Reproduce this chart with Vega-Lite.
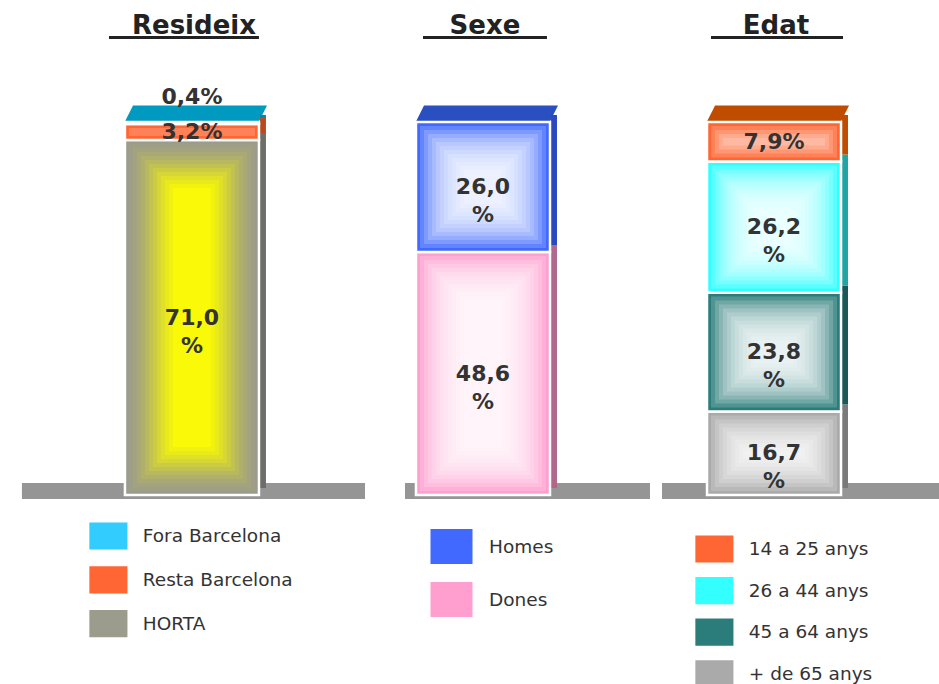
{
  "$schema": "https://vega.github.io/schema/vega-lite/v6.json",
  "autosize": {"type": "none"},
  "padding": {"left": 0, "top": 60, "right": 0, "bottom": 189},
  "width": 939,
  "height": 435,
  "background": "white",
  "config": {"view": {"stroke": null}, "font": "DejaVu Sans"},
  "data": {"values": [
    {"panel": "Resideix", "cat": "HORTA", "value": 71.0, "label": "71,0\n%", "ord": 1},
    {"panel": "Resideix", "cat": "Resta Barcelona", "value": 3.2, "label": "3,2%", "ord": 2},
    {"panel": "Resideix", "cat": "Fora Barcelona", "value": 0.4, "label": "0,4%", "ord": 3},
    {"panel": "Sexe", "cat": "Dones", "value": 48.6, "label": "48,6\n%", "ord": 1},
    {"panel": "Sexe", "cat": "Homes", "value": 26.0, "label": "26,0\n%", "ord": 2},
    {"panel": "Edat", "cat": "+ de 65 anys", "value": 16.7, "label": "16,7\n%", "ord": 1},
    {"panel": "Edat", "cat": "45 a 64 anys", "value": 23.8, "label": "23,8\n%", "ord": 2},
    {"panel": "Edat", "cat": "26 a 44 anys", "value": 26.2, "label": "26,2\n%", "ord": 3},
    {"panel": "Edat", "cat": "14 a 25 anys", "value": 7.9, "label": "7,9%", "ord": 4}
  ]},
  "transform": [
    {"stack": "value", "groupby": ["panel"], "sort": [{"field": "ord", "order": "ascending"}], "as": ["y0", "y1"]}
  ],
  "encoding": {
    "x": {
      "field": "panel", "type": "nominal", "sort": ["Resideix", "Sexe", "Edat"],
      "scale": {"domain": ["Resideix", "Sexe", "Edat"], "paddingInner": 0.5395, "paddingOuter": 0.383, "align": 0.5605},
      "axis": {"orient": "top", "title": null, "domain": false, "ticks": false, "tickSize": 0, "grid": false,
               "labelPadding": 27, "labelAngle": 0, "labelBaseline": "alphabetic", "labelOffset": 2,
               "labelFont": "DejaVu Sans", "labelFontSize": 26, "labelFontWeight": "bold", "labelColor": "#222222"}
    }
  },
  "layer": [
    {
      "transform": [{"filter": {"and": [{"field": "panel", "equal": "Resideix"}, {"field": "ord", "equal": 1}]}}],
      "mark": {"type": "bar", "fill": "#959595", "width": {"band": 2.56}, "xOffset": 1.5},
      "encoding": {"y": {"datum": -0.8, "type": "quantitative", "scale": {"domain": [0, 87], "nice": false, "zero": false}, "axis": null}, "y2": {"datum": 2.4}}
    },
    {
      "transform": [{"filter": {"and": [{"field": "panel", "equal": "Sexe"}, {"field": "ord", "equal": 1}]}}],
      "mark": {"type": "bar", "fill": "#959595", "width": {"band": 1.828}, "xOffset": 44.5},
      "encoding": {"y": {"datum": -0.8, "type": "quantitative", "scale": {"domain": [0, 87], "nice": false, "zero": false}, "axis": null}, "y2": {"datum": 2.4}}
    },
    {
      "transform": [{"filter": {"and": [{"field": "panel", "equal": "Edat"}, {"field": "ord", "equal": 1}]}}],
      "mark": {"type": "bar", "fill": "#959595", "width": {"band": 2.067}, "xOffset": 26.5},
      "encoding": {"y": {"datum": -0.8, "type": "quantitative", "scale": {"domain": [0, 87], "nice": false, "zero": false}, "axis": null}, "y2": {"datum": 2.4}}
    },
    {
      "transform": [{"filter": {"field": "cat", "oneOf": ["Fora Barcelona", "Homes", "14 a 25 anys"]}}],
      "mark": {"type": "point", "filled": true, "opacity": 1, "strokeWidth": 0, "size": 17956, "yOffset": -8.5,
               "shape": "M-1,0.118L1,0.118L1.12,-0.118L-0.88,-0.118Z"},
      "encoding": {
        "y": {"field": "y1", "type": "quantitative", "scale": {"domain": [0, 87], "nice": false, "zero": false}, "axis": null},
        "fill": {"condition": [{"test": "datum.panel === 'Resideix'", "value": "#0099C0"}, {"test": "datum.panel === 'Sexe'", "value": "#2A4FC0"}], "value": "#C04C00"}
      }
    },
    {
      "mark": {"type": "bar", "width": 6, "xOffset": 71, "yOffset": -7, "y2Offset": -7},
      "encoding": {
        "y": {"field": "y0", "type": "quantitative", "scale": {"domain": [0, 87], "nice": false, "zero": false}, "axis": null},
        "y2": {"field": "y1"},
        "fill": {"condition": [
          {"test": "datum.cat === 'HORTA'", "value": "#6E6E68"},
          {"test": "datum.cat === 'Resta Barcelona'", "value": "#B84A20"},
          {"test": "datum.cat === 'Fora Barcelona'", "value": "#0088AA"},
          {"test": "datum.cat === 'Homes'", "value": "#2A48C0"},
          {"test": "datum.cat === 'Dones'", "value": "#B0688C"},
          {"test": "datum.cat === '14 a 25 anys'", "value": "#C04C00"},
          {"test": "datum.cat === '26 a 44 anys'", "value": "#20A4A4"},
          {"test": "datum.cat === '45 a 64 anys'", "value": "#1A5858"}
        ], "value": "#7A7A7A"}
      }
    },
    {
      "transform": [{"filter": {"field": "panel", "equal": "Resideix"}}],
      "mark": {"type": "bar", "stroke": "white", "strokeWidth": 2.5},
      "encoding": {
        "y": {"field": "y0", "type": "quantitative", "scale": {"domain": [0, 87], "nice": false, "zero": false}, "axis": null},
        "y2": {"field": "y1"},
        "color": {"field": "cat", "type": "nominal",
          "scale": {"domain": ["Fora Barcelona", "Resta Barcelona", "HORTA"], "range": ["#33CCFF", "#FF6633", "#9C9C8C"]},
          "legend": {"orient": "none", "legendX": 94.4, "legendY": 462, "title": null, "padding": 0,
            "symbolType": "M-1.4,-1H1.4V1H-1.4Z", "symbolSize": 740, "symbolStrokeWidth": 0, "symbolOpacity": 1,
            "labelFont": "DejaVu Sans", "labelFontSize": 18.5, "labelColor": "#333333", "labelOffset": 20.4, "labelLimit": 400, "rowPadding": 15.8}}
      }
    },
    {
      "transform": [{"filter": {"field": "panel", "equal": "Sexe"}}],
      "mark": {"type": "bar", "stroke": "white", "strokeWidth": 2.5},
      "encoding": {
        "y": {"field": "y0", "type": "quantitative", "scale": {"domain": [0, 87], "nice": false, "zero": false}, "axis": null},
        "y2": {"field": "y1"},
        "color": {"field": "cat", "type": "nominal",
          "scale": {"domain": ["Homes", "Dones"], "range": ["#4169FF", "#FF9FCF"]},
          "legend": {"orient": "none", "legendX": 434, "legendY": 469, "title": null, "padding": 0,
            "symbolType": "M-1.2,-1H1.2V1H-1.2Z", "symbolSize": 1225, "symbolStrokeWidth": 0, "symbolOpacity": 1,
            "labelFont": "DejaVu Sans", "labelFontSize": 18.5, "labelColor": "#333333", "labelOffset": 20, "labelLimit": 400, "rowPadding": 18}}
      }
    },
    {
      "transform": [{"filter": {"field": "panel", "equal": "Edat"}}],
      "mark": {"type": "bar", "stroke": "white", "strokeWidth": 2.5},
      "encoding": {
        "y": {"field": "y0", "type": "quantitative", "scale": {"domain": [0, 87], "nice": false, "zero": false}, "axis": null},
        "y2": {"field": "y1"},
        "color": {"field": "cat", "type": "nominal",
          "scale": {"domain": ["14 a 25 anys", "26 a 44 anys", "45 a 64 anys", "+ de 65 anys"], "range": ["#FF6633", "#33FFFF", "#2A7D7B", "#AAAAAA"]},
          "legend": {"orient": "none", "legendX": 700.4, "legendY": 475, "title": null, "padding": 0,
            "symbolType": "M-1.4,-1H1.4V1H-1.4Z", "symbolSize": 740, "symbolStrokeWidth": 0, "symbolOpacity": 1,
            "labelFont": "DejaVu Sans", "labelFontSize": 18.5, "labelColor": "#333333", "labelOffset": 20.4, "labelLimit": 400, "rowPadding": 13.6}}
      }
    },
    {"transform": [{"filter": "datum.value >= 1.7"}], "mark": {"type": "bar", "width": {"band": 0.9403}, "yOffset": -4, "y2Offset": 4},
     "encoding": {"y": {"field": "y0", "type": "quantitative", "scale": {"domain": [0, 87], "nice": false, "zero": false}, "axis": null}, "y2": {"field": "y1"}, "fill": {"condition": {"test": "datum.cat === 'HORTA'", "value": "#FFFF00"}, "value": "#FFFFFF"}, "opacity": {"condition": {"test": "datum.cat === 'HORTA'", "value": 0.03}, "value": 0.18}}},
    {"transform": [{"filter": "datum.value >= 3.3"}], "mark": {"type": "bar", "width": {"band": 0.8806}, "yOffset": -8, "y2Offset": 8},
     "encoding": {"y": {"field": "y0", "type": "quantitative", "scale": {"domain": [0, 87], "nice": false, "zero": false}, "axis": null}, "y2": {"field": "y1"}, "fill": {"condition": {"test": "datum.cat === 'HORTA'", "value": "#FFFF00"}, "value": "#FFFFFF"}, "opacity": {"condition": {"test": "datum.cat === 'HORTA'", "value": 0.05}, "value": 0.18}}},
    {"transform": [{"filter": "datum.value >= 4.9"}], "mark": {"type": "bar", "width": {"band": 0.8209}, "yOffset": -12, "y2Offset": 12},
     "encoding": {"y": {"field": "y0", "type": "quantitative", "scale": {"domain": [0, 87], "nice": false, "zero": false}, "axis": null}, "y2": {"field": "y1"}, "fill": {"condition": {"test": "datum.cat === 'HORTA'", "value": "#FFFF00"}, "value": "#FFFFFF"}, "opacity": {"condition": {"test": "datum.cat === 'HORTA'", "value": 0.07}, "value": 0.18}}},
    {"transform": [{"filter": "datum.value >= 6.5"}], "mark": {"type": "bar", "width": {"band": 0.7612}, "yOffset": -16, "y2Offset": 16},
     "encoding": {"y": {"field": "y0", "type": "quantitative", "scale": {"domain": [0, 87], "nice": false, "zero": false}, "axis": null}, "y2": {"field": "y1"}, "fill": {"condition": {"test": "datum.cat === 'HORTA'", "value": "#FFFF00"}, "value": "#FFFFFF"}, "opacity": {"condition": {"test": "datum.cat === 'HORTA'", "value": 0.09}, "value": 0.18}}},
    {"transform": [{"filter": "datum.value >= 8.1"}], "mark": {"type": "bar", "width": {"band": 0.7015}, "yOffset": -20, "y2Offset": 20},
     "encoding": {"y": {"field": "y0", "type": "quantitative", "scale": {"domain": [0, 87], "nice": false, "zero": false}, "axis": null}, "y2": {"field": "y1"}, "fill": {"condition": {"test": "datum.cat === 'HORTA'", "value": "#FFFF00"}, "value": "#FFFFFF"}, "opacity": {"condition": {"test": "datum.cat === 'HORTA'", "value": 0.11}, "value": 0.18}}},
    {"transform": [{"filter": "datum.value >= 9.7"}], "mark": {"type": "bar", "width": {"band": 0.6418}, "yOffset": -24, "y2Offset": 24},
     "encoding": {"y": {"field": "y0", "type": "quantitative", "scale": {"domain": [0, 87], "nice": false, "zero": false}, "axis": null}, "y2": {"field": "y1"}, "fill": {"condition": {"test": "datum.cat === 'HORTA'", "value": "#FFFF00"}, "value": "#FFFFFF"}, "opacity": {"condition": {"test": "datum.cat === 'HORTA'", "value": 0.14}, "value": 0.18}}},
    {"transform": [{"filter": "datum.value >= 11.3"}], "mark": {"type": "bar", "width": {"band": 0.5821}, "yOffset": -28, "y2Offset": 28},
     "encoding": {"y": {"field": "y0", "type": "quantitative", "scale": {"domain": [0, 87], "nice": false, "zero": false}, "axis": null}, "y2": {"field": "y1"}, "fill": {"condition": {"test": "datum.cat === 'HORTA'", "value": "#FFFF00"}, "value": "#FFFFFF"}, "opacity": {"condition": {"test": "datum.cat === 'HORTA'", "value": 0.17}, "value": 0.18}}},
    {"transform": [{"filter": "datum.value >= 12.9"}], "mark": {"type": "bar", "width": {"band": 0.5224}, "yOffset": -32, "y2Offset": 32},
     "encoding": {"y": {"field": "y0", "type": "quantitative", "scale": {"domain": [0, 87], "nice": false, "zero": false}, "axis": null}, "y2": {"field": "y1"}, "fill": {"condition": {"test": "datum.cat === 'HORTA'", "value": "#FFFF00"}, "value": "#FFFFFF"}, "opacity": {"condition": {"test": "datum.cat === 'HORTA'", "value": 0.2}, "value": 0.18}}},
    {"transform": [{"filter": "datum.value >= 14.5"}], "mark": {"type": "bar", "width": {"band": 0.4627}, "yOffset": -36, "y2Offset": 36},
     "encoding": {"y": {"field": "y0", "type": "quantitative", "scale": {"domain": [0, 87], "nice": false, "zero": false}, "axis": null}, "y2": {"field": "y1"}, "fill": {"condition": {"test": "datum.cat === 'HORTA'", "value": "#FFFF00"}, "value": "#FFFFFF"}, "opacity": {"condition": {"test": "datum.cat === 'HORTA'", "value": 0.25}, "value": 0.18}}},
    {"transform": [{"filter": "datum.value >= 16.1"}], "mark": {"type": "bar", "width": {"band": 0.403}, "yOffset": -40, "y2Offset": 40},
     "encoding": {"y": {"field": "y0", "type": "quantitative", "scale": {"domain": [0, 87], "nice": false, "zero": false}, "axis": null}, "y2": {"field": "y1"}, "fill": {"condition": {"test": "datum.cat === 'HORTA'", "value": "#FFFF00"}, "value": "#FFFFFF"}, "opacity": {"condition": {"test": "datum.cat === 'HORTA'", "value": 0.3}, "value": 0.18}}},
    {"transform": [{"filter": "datum.value >= 17.7"}], "mark": {"type": "bar", "width": {"band": 0.3433}, "yOffset": -44, "y2Offset": 44},
     "encoding": {"y": {"field": "y0", "type": "quantitative", "scale": {"domain": [0, 87], "nice": false, "zero": false}, "axis": null}, "y2": {"field": "y1"}, "fill": {"condition": {"test": "datum.cat === 'HORTA'", "value": "#FFFF00"}, "value": "#FFFFFF"}, "opacity": {"condition": {"test": "datum.cat === 'HORTA'", "value": 0.4}, "value": 0.18}}},
    {"transform": [{"filter": "datum.value >= 19.3"}], "mark": {"type": "bar", "width": {"band": 0.2836}, "yOffset": -48, "y2Offset": 48},
     "encoding": {"y": {"field": "y0", "type": "quantitative", "scale": {"domain": [0, 87], "nice": false, "zero": false}, "axis": null}, "y2": {"field": "y1"}, "fill": {"condition": {"test": "datum.cat === 'HORTA'", "value": "#FFFF00"}, "value": "#FFFFFF"}, "opacity": {"condition": {"test": "datum.cat === 'HORTA'", "value": 0.5}, "value": 0.18}}},
    {
      "transform": [
        {"fold": ["y0", "y1"], "as": ["k", "v"]},
        {"aggregate": [{"op": "mean", "field": "v", "as": "mid"}], "groupby": ["panel", "cat", "label"]},
        {"filter": "datum.cat !== 'Fora Barcelona'"}
      ],
      "mark": {"type": "text", "font": "DejaVu Sans", "fontSize": 22, "fontWeight": "bold", "fill": "#333333", "lineBreak": "\n", "lineHeight": 28, "baseline": "middle", "align": "center"},
      "encoding": {"y": {"field": "mid", "type": "quantitative", "scale": {"domain": [0, 87], "nice": false, "zero": false}, "axis": null}, "text": {"field": "label"}}
    },
    {
      "transform": [
        {"fold": ["y0", "y1"], "as": ["k", "v"]},
        {"aggregate": [{"op": "mean", "field": "v", "as": "mid"}], "groupby": ["panel", "cat", "label"]},
        {"filter": "datum.cat === 'Fora Barcelona'"}
      ],
      "mark": {"type": "text", "font": "DejaVu Sans", "fontSize": 22, "fontWeight": "bold", "fill": "#333333", "baseline": "middle", "align": "center", "dy": -26},
      "encoding": {"y": {"field": "mid", "type": "quantitative", "scale": {"domain": [0, 87], "nice": false, "zero": false}, "axis": null}, "text": {"field": "label"}}
    },
    {
      "transform": [{"filter": {"and": [{"field": "panel", "equal": "Resideix"}, {"field": "ord", "equal": 1}]}}],
      "mark": {"type": "bar", "fill": "#222222", "width": {"band": 1.119}, "xOffset": -8},
      "encoding": {"y": {"datum": 91.2, "type": "quantitative", "scale": {"domain": [0, 87], "nice": false, "zero": false}, "axis": null}, "y2": {"datum": 91.8}}
    },
    {
      "transform": [{"filter": {"and": [{"field": "panel", "equal": "Sexe"}, {"field": "ord", "equal": 1}]}}],
      "mark": {"type": "bar", "fill": "#222222", "width": {"band": 0.925}, "xOffset": 2},
      "encoding": {"y": {"datum": 91.2, "type": "quantitative", "scale": {"domain": [0, 87], "nice": false, "zero": false}, "axis": null}, "y2": {"datum": 91.8}}
    },
    {
      "transform": [{"filter": {"and": [{"field": "panel", "equal": "Edat"}, {"field": "ord", "equal": 1}]}}],
      "mark": {"type": "bar", "fill": "#222222", "width": {"band": 0.985}, "xOffset": 3},
      "encoding": {"y": {"datum": 91.2, "type": "quantitative", "scale": {"domain": [0, 87], "nice": false, "zero": false}, "axis": null}, "y2": {"datum": 91.8}}
    }
  ],
  "resolve": {"scale": {"color": "independent"}, "legend": {"color": "independent"}}
}
